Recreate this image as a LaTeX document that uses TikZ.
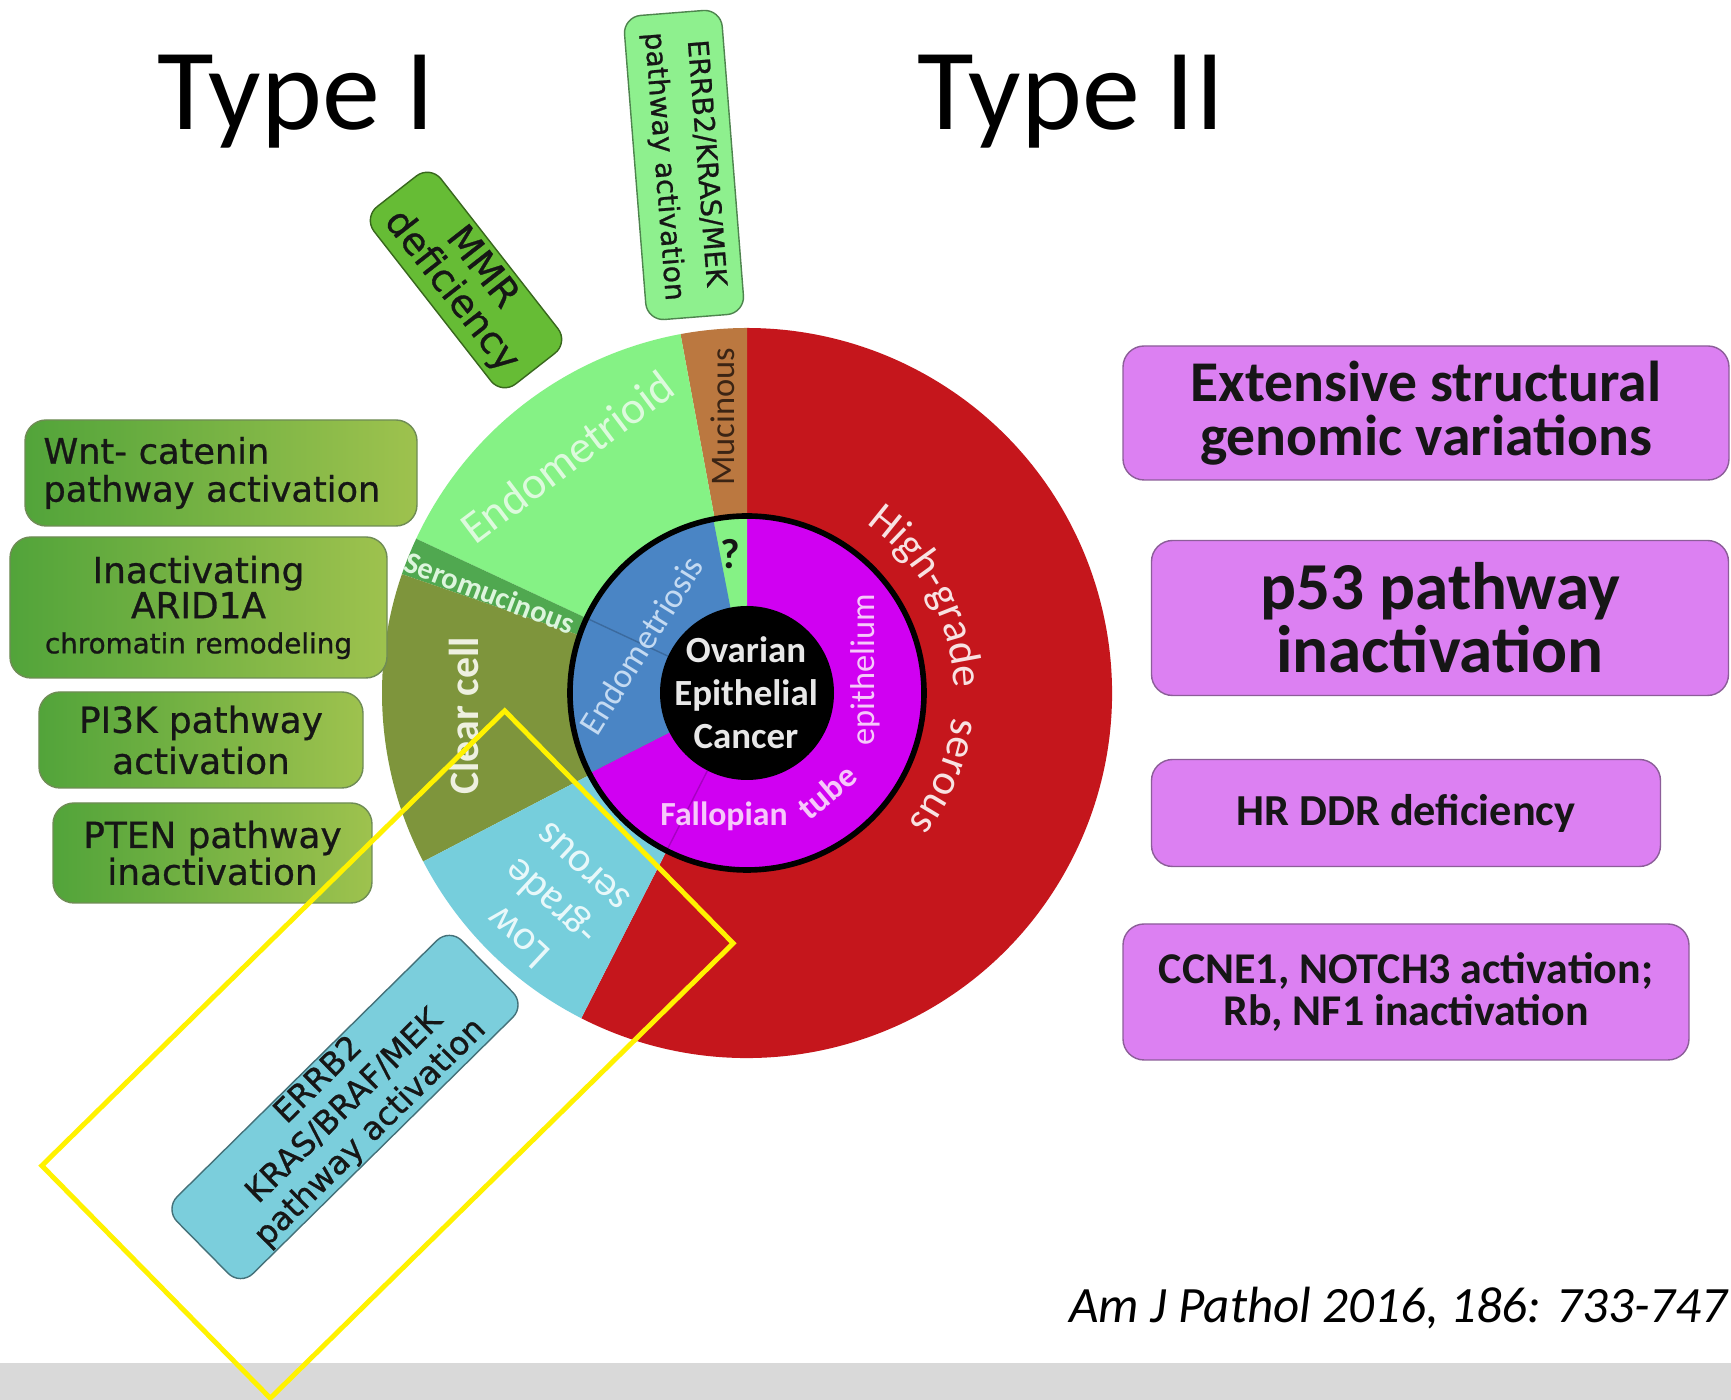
\documentclass[tikz,border=0pt]{standalone}
\usepackage{fontspec}
\setmainfont{Carlito}
\newfontfamily\boxfont[FakeBold=0.8]{DejaVu Sans}
\usetikzlibrary{positioning, calc, decorations.text}

\definecolor{cHGS}{HTML}{C5161C}    % high-grade serous
\definecolor{cMuc}{HTML}{BB7840}    % mucinous
\definecolor{cEndo}{HTML}{85F285}   % endometrioid
\definecolor{cSero}{HTML}{50A850}   % seromucinous
\definecolor{cClear}{HTML}{7E953C}  % clear cell
\definecolor{cLGS}{HTML}{76CEDC}    % low-grade serous
\definecolor{cEms}{HTML}{4A85C5}    % endometriosis
\definecolor{cFTE}{HTML}{D000F2}    % fallopian tube
\definecolor{cRbox}{HTML}{DC80F2}
\definecolor{cRline}{HTML}{8C5E99}
\definecolor{cLboxL}{HTML}{52A43A}
\definecolor{cLboxR}{HTML}{9EC24E}
\definecolor{cLline}{HTML}{6F8C55}
\definecolor{cMMR}{HTML}{66BC35}
\definecolor{cErrTop}{HTML}{8EF08E}
\definecolor{cErrLow}{HTML}{7BCEDC}
\definecolor{cTxt}{HTML}{161616}
\definecolor{cBand}{HTML}{D9D9D9}
\definecolor{cEndoTxt}{HTML}{DDFADD}
\definecolor{cMucTxt}{HTML}{3B2414}
\definecolor{cSeroTxt}{HTML}{DDF5DD}
\definecolor{cClearTxt}{HTML}{EEF0E0}
\definecolor{cLGSTxt}{HTML}{E8F8FA}
\definecolor{cEmsTxt}{HTML}{C4DAF2}
\definecolor{cFTETxt}{HTML}{F6C8FA}
\definecolor{cHGSTxt}{HTML}{F8E2E2}
\definecolor{cCenTxt}{HTML}{E8E8E8}

\begin{document}
\begin{tikzpicture}[
    lbox/.style={rectangle, rounded corners=6pt, draw=cLline, left color=cLboxL, right color=cLboxR, text=cTxt, align=center, inner sep=0pt, font=\boxfont\fontsize{10.2}{11}\selectfont},
    rbox/.style={rectangle, rounded corners=6pt, draw=cRline, fill=cRbox, text=cTxt, align=center, inner sep=0pt},
    tbox/.style={rectangle, rounded corners=5pt, draw=#1!55!black, fill=#1, text=cTxt, align=center, inner sep=0pt},
    pielabel/.style={inner sep=0pt, align=center},
]

\useasboundingbox (0,0) rectangle (17.31,14);
\fill[white] (0,0) rectangle (17.31,14);
\fill[cBand] (0,0) rectangle (17.31,0.37);

% titles
\node[font=\fontsize{33}{36}\selectfont, anchor=base west] (typeone) at (1.45,12.70) {Type I};
\node[font=\fontsize{33}{36}\selectfont, anchor=base west] (typetwo) at (9.05,12.70) {Type II};

% pie: outer ring
\coordinate (pc) at (7.47,7.07);
\foreach \a/\b/\c in {243/450/cHGS, 90/100.5/cMuc, 100.5/155/cEndo, 155/161/cSero, 161/207.5/cClear, 207.5/243/cLGS}
  \fill[\c] (pc) -- +(\a:3.65) arc[start angle=\a, end angle=\b, radius=3.65] -- cycle;

% pie: middle ring
\foreach \a/\b/\c in {207/450/cFTE, 90/101/cEndo, 101/207/cEms}
  \fill[\c] (pc) -- +(\a:1.77) arc[start angle=\a, end angle=\b, radius=1.77] -- cycle;
\draw[cEms!80!black, thin] (pc) ++(155:0.87) -- ++(155:0.9);
\draw[cFTE!80!black, thin] (pc) ++(243:0.87) -- ++(243:0.9);
\draw[line width=1.6pt] (pc) circle[radius=1.77];
\fill[black] (pc) circle[radius=0.87];

% pie labels
\node[pielabel, rotate=37, text=cEndoTxt, font=\fontsize{13}{13}\selectfont] (lendo) at (5.67,9.43) {Endometrioid};
\node[pielabel, rotate=90, text=cMucTxt, font=\fontsize{9.8}{10}\selectfont] (lmuc) at (7.23,9.83) {Mucinous};
\node[pielabel, rotate=-21, text=cSeroTxt, font=\bfseries\fontsize{8.7}{9}\selectfont] (lsero) at (4.90,8.07) {Seromucinous};
\node[pielabel, rotate=90, text=cClearTxt, font=\bfseries\fontsize{11.9}{12}\selectfont] (lclear) at (4.64,6.84) {Clear cell};
\node[pielabel, rotate=137, text=cLGSTxt, font=\fontsize{12}{13.5}\selectfont] (llgs) at (5.50,4.97) {Low\\-grade\\serous};
\node[pielabel, rotate=58, text=cEmsTxt, font=\fontsize{9.9}{10}\selectfont] (lems) at (6.41,7.55) {Endometriosis};
\node[pielabel, text=cTxt, font=\bfseries\fontsize{12}{12}\selectfont] (lq) at (7.30,8.46) {?};
\node[pielabel, text=cCenTxt, font=\bfseries\fontsize{10.5}{12.2}\selectfont] (lcenter) at (7.46,7.07) {Ovarian\\Epithelial\\Cancer};
\node[pielabel, text=cFTETxt, font=\bfseries\fontsize{9.6}{10}\selectfont] (lfall) at (7.24,5.84) {Fallopian};
\node[pielabel, rotate=40, text=cFTETxt, font=\bfseries\fontsize{9.6}{10}\selectfont] (ltube) at (8.27,6.08) {tube};
\node[pielabel, rotate=90, text=cFTETxt, font=\fontsize{9.8}{10}\selectfont] (lepi) at (8.65,7.30) {epithelium};
\path[decorate, decoration={text along path, text align=center, text color=cHGSTxt,
    text={|\fontsize{12.3}{12}\selectfont|High-grade{\ }{\ }{\ }serous}}]
    ([shift={(62:2.07)}]pc) arc[start angle=62, end angle=-46, radius=2.07];

% Type I boxes
\node[lbox, minimum width=3.92cm, minimum height=1.06cm, text width=3.55cm, align=left, inner xsep=0.185cm, font=\boxfont\fontsize{10}{10.8}\selectfont] (wnt) at (2.21,9.27) {Wnt- catenin\\pathway activation};
\node[lbox, minimum width=3.77cm, minimum height=1.41cm, font=\boxfont\fontsize{10.2}{10}\selectfont] (arid) at (1.985,7.925) {Inactivating\\ARID1A\\{\fontsize{7.9}{10}\selectfont chromatin remodeling}};
\node[lbox, minimum width=3.24cm, minimum height=0.96cm, font=\boxfont\fontsize{10.2}{11.7}\selectfont] (pik) at (2.01,6.60) {PI3K pathway\\activation};
\node[lbox, minimum width=3.19cm, minimum height=1.00cm, font=\boxfont\fontsize{10.2}{10.5}\selectfont] (pten) at (2.125,5.47) {PTEN pathway\\inactivation};

\node[tbox=cMMR, rotate=-52, minimum width=2.25cm, minimum height=0.85cm, font=\boxfont\fontsize{10.8}{11}\selectfont] (mmr) at (4.66,11.20) {MMR\\deficiency};
\node[tbox=cErrTop, rotate=-85.5, minimum width=3.05cm, minimum height=0.98cm, font=\boxfont\fontsize{8}{12}\selectfont] (errtop) at (6.84,12.35) {ERRB2/KRAS/MEK\\pathway activation};
\node[tbox=cErrLow, rotate=44.6, minimum width=4.0cm, minimum height=1.08cm, font=\boxfont\fontsize{9.2}{10.5}\selectfont] (errlow) at (3.45,2.93) {ERRB2\\KRAS/BRAF/MEK\\pathway activation};

% Type II boxes
\node[rbox, minimum width=6.06cm, minimum height=1.34cm, font=\bfseries\fontsize{16.4}{15.2}\selectfont] (sgv) at (14.26,9.87) {Extensive structural\\genomic variations};
\node[rbox, minimum width=5.77cm, minimum height=1.55cm, font=\bfseries\fontsize{19.1}{18}\selectfont] (ptf) at (14.40,7.82) {p53 pathway\\inactivation};
\node[rbox, minimum width=5.09cm, minimum height=1.07cm, font=\bfseries\fontsize{12.6}{13}\selectfont] (hrd) at (14.06,5.87) {HR DDR deficiency};
\node[rbox, minimum width=5.66cm, minimum height=1.36cm, font=\bfseries\fontsize{12.5}{11.7}\selectfont] (ccne) at (14.06,4.08) {CCNE1, NOTCH3 activation;\\Rb, NF1 inactivation};

% citation
\node[font=\itshape\fontsize{14.5}{16}\selectfont, anchor=base east, inner sep=0pt] (cite) at (17.28,0.77) {Am J Pathol 2016, 186: 733-747};

% highlight frame
\node[draw=yellow, line width=1.4pt, rotate=44.5, minimum width=6.49cm, minimum height=3.26cm] (hilite) at (3.875,3.455) {};

\end{tikzpicture}
\end{document}
